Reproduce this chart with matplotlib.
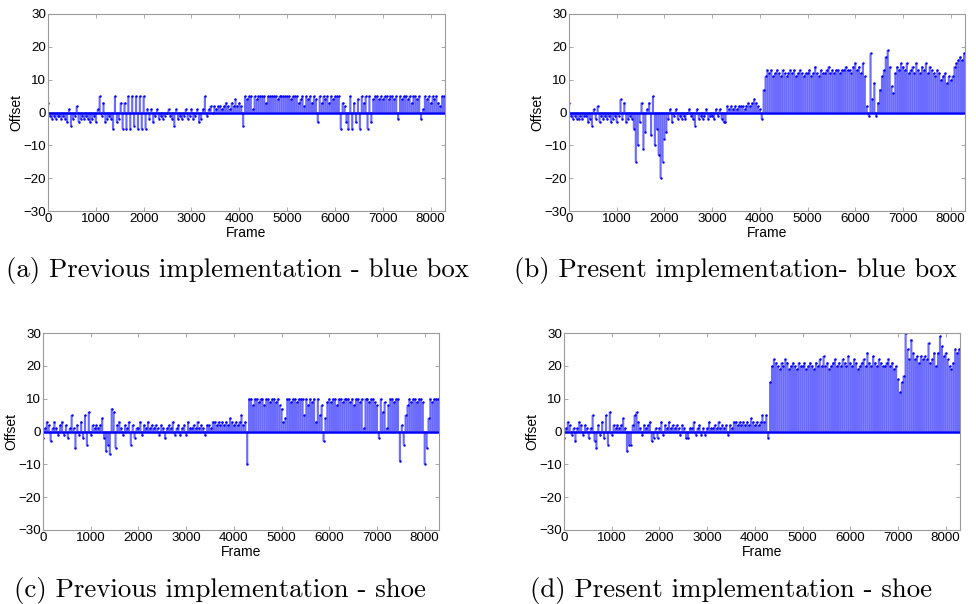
import numpy as np
import matplotlib
matplotlib.use("Agg")
import matplotlib.pyplot as plt

# Frame-by-frame offsets (sampled every 40 frames, 0..8280)
frame_step = 40

offset_prev_bluebox = [
    3, -1, -2, -1, -2, -1, -1, -2, -1, -2, -3, 1, -4, -2, -1, 2, -3, -2, -1, -2, -1, -2, -3, -2, -1,
    -3, 1, 5, -1, 3, -3, -2, -1, -2, -5, 5, -3, -2, 3, -5, 3, -5, 5, -5, 5, -4, 5, -5, 5, -5,
    5, -5, 1, -2, 1, -3, -1, 1, -2, -1, -2, -1, 0, 1, -1, -2, -4, 1, -2, -1, -2, -1, 1, -2, -1,
    1, -2, -1, 1, -3, -2, 1, 5, -1, 1, 2, 0, 2, 1, 2, 2, 1, 2, 3, 2, 1, 3, 2, 4, 2,
    3, 2, -4, 5, 4, 5, 5, 1, 5, 4, 5, 5, 5, 5, 3, 5, 5, 5, 5, 5, 4, 5, 5, 5, 5,
    5, 5, 4, 5, 5, 5, 3, 4, 5, 2, 5, 4, 5, 3, 5, 4, -3, 5, 3, 5, 4, 5, 3, 5, 4,
    5, 5, 5, -5, 3, 2, -3, -5, 5, -5, 3, -3, 4, -5, 5, 3, 5, -5, 5, -3, 4, 5, 5, 4, 5,
    4, 5, 5, 4, 5, 5, 4, 5, -2, 5, 4, 5, 5, 4, 5, 3, 5, 5, 4, 5, -2, 1, 5, 4, 5,
    3, 5, 4, 5, 3, 2, 5, 5,
]

offset_pres_bluebox = [
    3, -1, -2, -1, -2, -2, -1, -2, -1, -1, -3, -2, -4, 1, -2, 2, -3, -1, -2, -1, -2, -1, -3, -2, -1,
    -3, -1, 4, -2, 3, -3, -2, -1, -2, -5, -15, -10, -3, 3, -11, -6, 1, 3, -7, 5, -10, -5, -13, -20, -15,
    -8, -6, -2, 1, -3, -1, 1, -2, -1, -2, -1, -2, 0, 1, -1, -2, -4, 1, -2, -1, -2, -1, 1, -2, -1,
    -1, -2, 1, -1, 1, -2, -3, -3, 2, 1, 2, 1, 2, 1, 2, 2, 2, 1, 2, 3, 2, 3, 4, 3, 2,
    1, -2, 7, 11, 13, 12, 13, 11, 12, 13, 12, 11, 13, 12, 11, 12, 13, 12, 13, 11, 12, 13, 12, 11, 12,
    12, 13, 11, 12, 14, 12, 11, 13, 12, 12, 13, 14, 12, 13, 12, 13, 13, 12, 13, 13, 14, 13, 13, 12, 14,
    15, 13, 14, 12, 15, 11, 2, -1, 18, 4, 9, -1, 3, 7, 11, 13, 17, 19, 14, 8, 6, 12, 14, 13, 15,
    14, 13, 15, 12, 13, 14, 12, 15, 13, 12, 14, 13, 15, 12, 14, 13, 12, 11, 13, 12, 10, 11, 12, 9, 11,
    10, 11, 14, 15, 16, 17, 16, 18,
]

offset_prev_shoe = [
    -2, 1, 3, 2, -3, 1, 3, 1, -1, 2, 3, -1, 2, -2, 1, 5, 1, -5, 2, -1, 3, -2, 5, -4, 6,
    -1, 2, 1, 2, 1, 2, 4, -2, -6, -4, -7, 7, 6, -5, 2, 3, 1, -1, 2, 1, 3, -4, 2, -2, 1,
    1, 3, -1, 2, 1, 3, 1, 2, 1, 2, 1, -1, 2, 1, -2, 1, 2, 1, 3, -1, 1, 2, -1, 1, 2,
    -1, 3, 1, 1, 2, 1, 3, 1, 2, 1, -1, 2, 2, 1, 3, 3, 2, 3, 2, 3, 2, 3, 2, 4, 3,
    2, 3, 2, 3, 5, 2, 3, -10, 10, 10, 8, 10, 10, 9, 10, 10, 8, 10, 10, 9, 10, 10, 9, 10, 8,
    7, 3, 4, 10, 10, 9, 10, 10, 9, 10, 10, 10, 5, 10, 8, 10, 9, 10, 3, 10, 5, 8, -3, 4, 9,
    10, 9, 10, 10, 8, 10, 10, 9, 10, 10, 10, 9, 10, 8, 10, 10, 9, 10, 1, 10, 10, 9, 10, 10, 9,
    8, -2, 10, 6, 9, 1, 8, 10, 10, 9, 10, 10, -9, 2, -4, 5, 8, 10, 9, 10, 10, 9, 10, 10, 9,
    -10, -5, 4, 10, 9, 10, 10, 10,
]

offset_pres_shoe = [
    -2, 1, 3, 2, -1, 1, -3, 1, 3, 2, -1, 2, 1, -2, 1, 5, -3, -5, 2, -1, 3, -2, 5, -4, 6,
    -1, 2, 1, 2, 1, 2, 4, 1, -6, -4, -4, 2, 5, 6, 3, 1, -1, 2, 1, 2, 3, -3, -2, 1, -2,
    1, 3, -1, 2, 1, 3, 1, 2, 1, 2, 1, -1, 2, 1, -2, -2, 1, 1, 3, -1, 1, 2, -1, 1, -1,
    1, 3, 1, 1, 2, 1, 3, 1, 2, 1, 2, -1, 2, 1, 3, 3, 2, 3, 2, 3, 2, 3, 2, 4, 3,
    2, 3, 2, 3, 5, 3, 5, -2, 15, 20, 22, 21, 20, 19, 21, 20, 22, 21, 19, 20, 21, 20, 19, 21, 20,
    20, 21, 19, 20, 21, 20, 19, 21, 20, 22, 20, 23, 20, 21, 19, 20, 21, 22, 20, 21, 20, 22, 21, 20, 23,
    21, 20, 22, 21, 19, 20, 21, 22, 20, 24, 21, 20, 23, 21, 20, 22, 21, 20, 20, 21, 22, 20, 21, 19, 20,
    16, 12, 15, 17, 30, 25, 22, 28, 24, 22, 23, 21, 23, 22, 23, 22, 27, 21, 22, 24, 20, 24, 29, 26, 23,
    24, 22, 20, 19, 21, 25, 24, 25,
]

panels = [
    ("(a) Previous implementation - blue box", offset_prev_bluebox),
    ("(b) Present implementation- blue box", offset_pres_bluebox),
    ("(c) Previous implementation - shoe", offset_prev_shoe),
    ("(d) Present implementation - shoe", offset_pres_shoe),
]

W, H = 976, 604
# axes boxes in pixels: left, top, right, bottom
boxes = [
    (48, 14, 445, 211),
    (569, 14, 965, 211),
    (43, 333, 439, 530),
    (564, 333, 960, 530),
]
captions_xy = [(237, 271), (735, 271), (220, 590), (731, 590)]

fig = plt.figure(figsize=(W / 100, H / 100), dpi=100)
fig.patch.set_facecolor("white")

tick_family = "Liberation Sans"
tick_size = 9.6
spine_gray = "#9a9a9a"
stem_color = "#6b6bff"

for (title, vals), (l, t, r, b), (cx, cy) in zip(panels, boxes, captions_xy):
    ax = fig.add_axes([l / W, 1 - b / H, (r - l) / W, (b - t) / H])
    y = np.asarray(vals, dtype=float)
    x = np.arange(len(y)) * frame_step
    ax.vlines(x, 0, y, color=stem_color, linewidth=1.55, snap=False)
    ax.plot(x, y, linestyle="none", marker="o", markersize=1.4,
            markerfacecolor="#0000ff", markeredgecolor="#0000ff", markeredgewidth=0.3)
    ax.axhline(0, color="#0000ff", linewidth=1.8)

    ax.set_xlim(0, 8300)
    ax.set_ylim(-30, 30)
    ax.set_xticks(np.arange(0, 8001, 1000))
    ax.set_yticks(np.arange(-30, 31, 10))
    ax.tick_params(direction="in", length=3, width=0.6, color=spine_gray,
                   top=True, right=True, pad=1.5)
    for lab in ax.get_xticklabels() + ax.get_yticklabels():
        lab.set_fontfamily(tick_family)
        lab.set_fontsize(tick_size)
    for s in ax.spines.values():
        s.set_color(spine_gray)
        s.set_linewidth(0.8)
    ax.set_xlabel("Frame", fontfamily=tick_family, fontsize=10, labelpad=0.5)
    ax.set_ylabel("Offset", fontfamily=tick_family, fontsize=10, labelpad=0)

    fig.text(cx / W, 1 - cy / H, title, ha="center", va="center",
             fontfamily="cmr10", fontsize=19.3)

fig.savefig("out.png", dpi=100, facecolor="white")
